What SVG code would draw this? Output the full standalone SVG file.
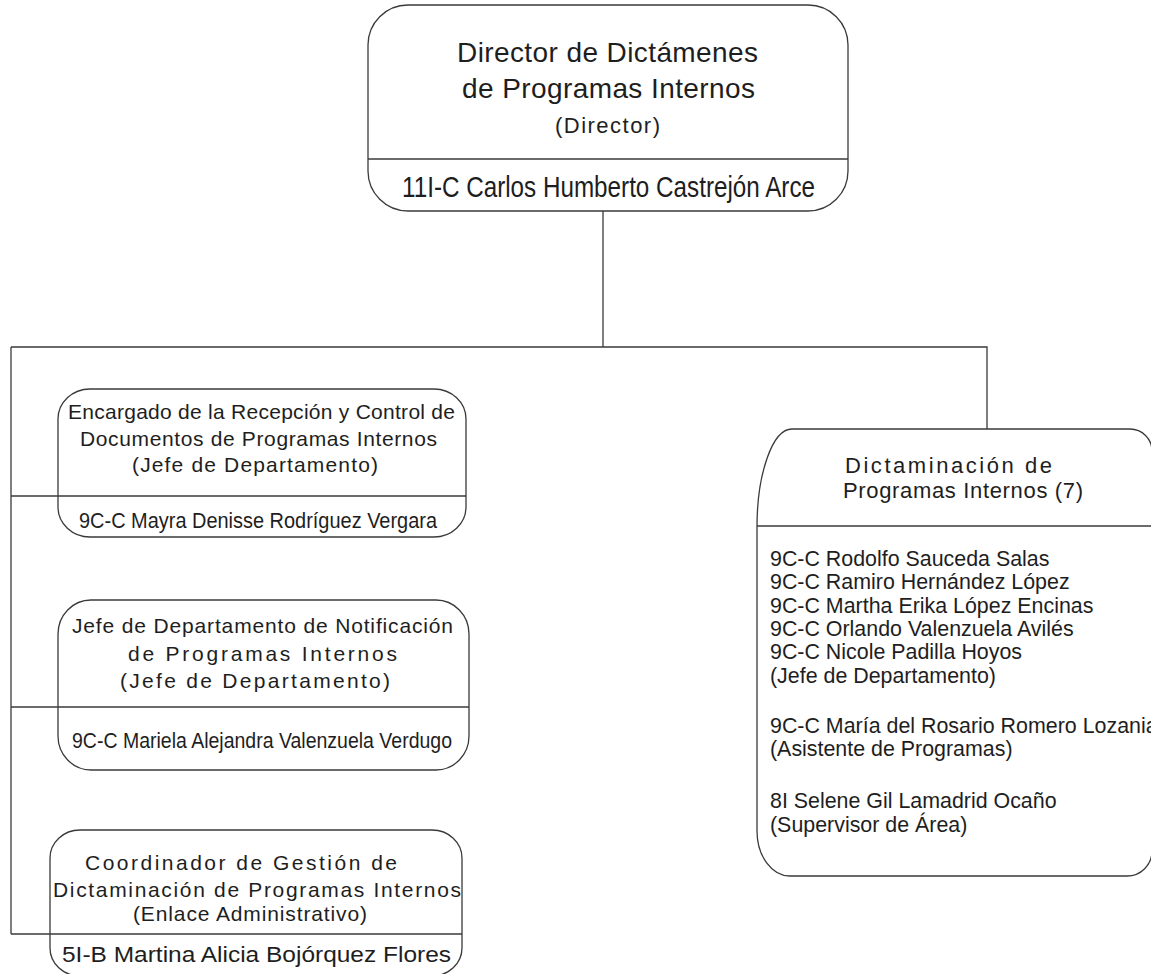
<svg xmlns="http://www.w3.org/2000/svg" width="1151" height="974" viewBox="0 0 1151 974">
<style>
.box{fill:#fff;stroke:#3a3a3a;stroke-width:1.3}
.div{stroke:#3a3a3a;stroke-width:1.3;fill:none}
.conn{stroke:#3a3a3a;stroke-width:1.3;fill:none}
text{font-family:"Liberation Sans",Arial,Helvetica,sans-serif;fill:#1e1e1e}
.t21{font-size:21px}
.ls{font-size:21.4px}
.t22{font-size:22px}
.t28{font-size:28px}
.nm{font-size:22px}
.nmb{font-size:29px}
</style>
<rect width="1151" height="974" fill="#fff"/>
<g id="connectors">
<path class="conn" d="M603,211 V347"/>
<path class="conn" d="M11,347 H987 V429"/>
<path class="conn" d="M11,347 V934"/>
<path class="conn" d="M11,496 H58"/>
<path class="conn" d="M11,707 H58"/>
<path class="conn" d="M11,934 H50"/>
</g>
<g id="director">
<rect class="box" x="368" y="5" width="480" height="206" rx="40" ry="40"/>
<path class="div" d="M368,159 H848"/>
<text class="t28" x="457" y="62" textLength="301" lengthAdjust="spacing">Director de Dictámenes</text>
<text class="t28" x="462" y="98" textLength="293" lengthAdjust="spacing">de Programas Internos</text>
<text class="t22" x="555" y="133" textLength="105" lengthAdjust="spacing">(Director)</text>
<text class="nmb" x="402" y="197" textLength="413" lengthAdjust="spacingAndGlyphs">11I-C Carlos Humberto Castrejón Arce</text>
</g>
<g id="recepcion">
<rect class="box" x="58" y="389" width="408" height="148" rx="32" ry="30"/>
<path class="div" d="M58,496 H466"/>
<text class="t21" x="68" y="419" textLength="387" lengthAdjust="spacing">Encargado de la Recepción y Control de</text>
<text class="t21" x="80" y="446" textLength="357" lengthAdjust="spacing">Documentos de Programas Internos</text>
<text class="t21" x="132" y="472" textLength="246" lengthAdjust="spacing">(Jefe de Departamento)</text>
<text class="nm" x="79" y="528" textLength="358" lengthAdjust="spacingAndGlyphs">9C-C Mayra Denisse Rodríguez Vergara</text>
</g>
<g id="notificacion">
<rect class="box" x="58" y="600" width="411" height="170" rx="33" ry="34"/>
<path class="div" d="M58,707 H469"/>
<text class="t21" x="72" y="633" textLength="381" lengthAdjust="spacing">Jefe de Departamento de Notificación</text>
<text class="t21" x="128" y="661" textLength="269" lengthAdjust="spacing">de Programas Internos</text>
<text class="t21" x="120" y="688" textLength="270" lengthAdjust="spacing">(Jefe de Departamento)</text>
<text class="nm" x="72" y="748" textLength="380" lengthAdjust="spacingAndGlyphs">9C-C Mariela Alejandra Valenzuela Verdugo</text>
</g>
<g id="coordinador">
<rect class="box" x="50" y="830" width="412" height="146" rx="30" ry="28"/>
<path class="div" d="M50,934 H462"/>
<text class="t21" x="85" y="870" textLength="312" lengthAdjust="spacing">Coordinador de Gestión de</text>
<text class="t21" x="53" y="897" textLength="408" lengthAdjust="spacing">Dictaminación de Programas Internos</text>
<text class="t21" x="133" y="921" textLength="234" lengthAdjust="spacing">(Enlace Administrativo)</text>
<text class="nm" x="62" y="962" textLength="389" lengthAdjust="spacingAndGlyphs">5I-B Martina Alicia Bojórquez Flores</text>
</g>
<g id="dictaminacion">
<path class="box" d="M792,429 H1130 A22,22 0 0 1 1152,451 V851 A25,25 0 0 1 1127,876 H790 A33,45 0 0 1 757,831 V527 A35,98 0 0 1 792,429 Z"/>
<path class="div" d="M757,526 H1152"/>
<text class="t22" x="845" y="473" textLength="207" lengthAdjust="spacing">Dictaminación de</text>
<text class="t22" x="843" y="498" textLength="240" lengthAdjust="spacing">Programas Internos (7)</text>
<text class="ls" x="770" y="566">9C-C Rodolfo Sauceda Salas</text>
<text class="ls" x="770" y="589">9C-C Ramiro Hernández López</text>
<text class="ls" x="770" y="613">9C-C Martha Erika López Encinas</text>
<text class="ls" x="770" y="636">9C-C Orlando Valenzuela Avilés</text>
<text class="ls" x="770" y="659">9C-C Nicole Padilla Hoyos</text>
<text class="ls" x="770" y="683">(Jefe de Departamento)</text>
<text class="ls" x="770" y="733">9C-C María del Rosario Romero Lozania</text>
<text class="ls" x="770" y="756">(Asistente de Programas)</text>
<text class="ls" x="770" y="808">8I Selene Gil Lamadrid Ocaño</text>
<text class="ls" x="770" y="832">(Supervisor de Área)</text>
</g>
</svg>
